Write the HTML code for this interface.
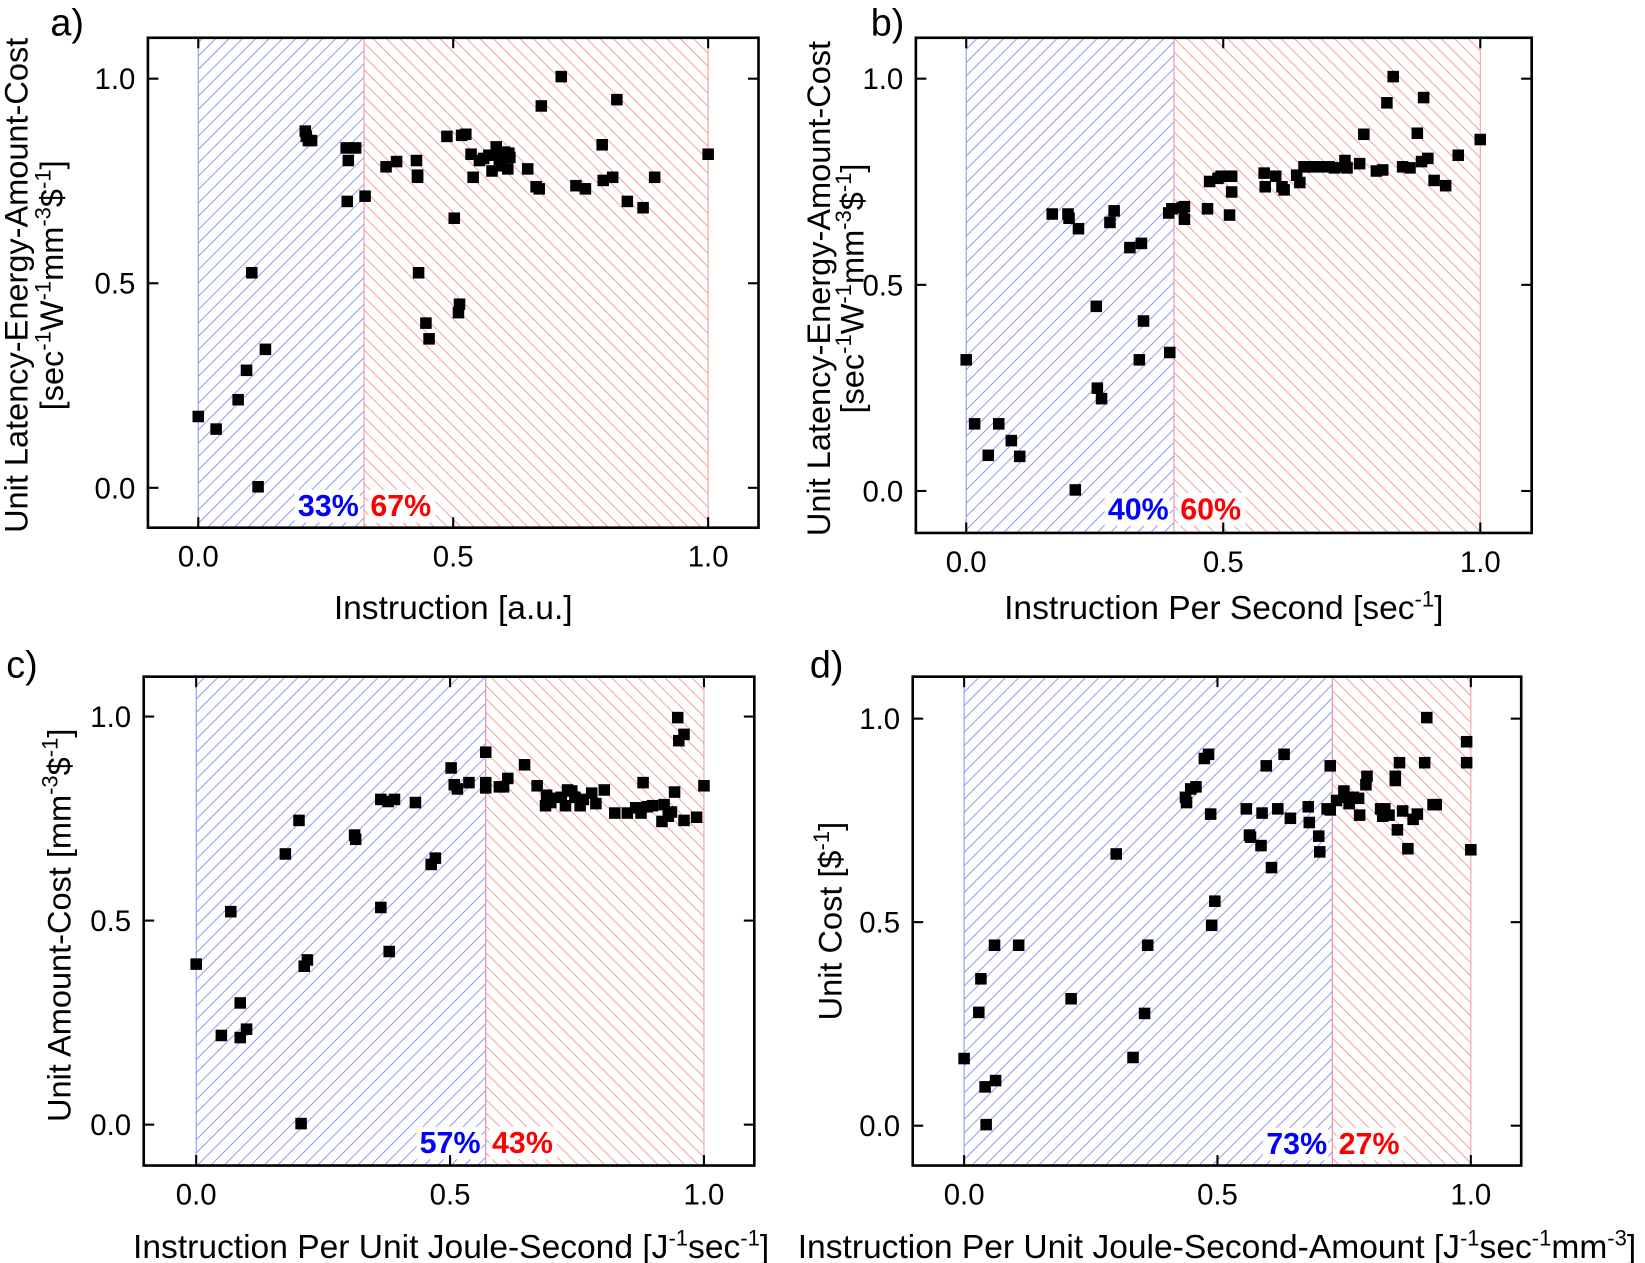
<!DOCTYPE html>
<html><head><meta charset="utf-8"><style>
html,body{margin:0;padding:0;background:#fff}
svg{display:block;font-family:"Liberation Sans",Arial,sans-serif}
</style></head><body>
<svg id="s" width="1645" height="1263" viewBox="0 0 1645 1263" xmlns="http://www.w3.org/2000/svg">
<defs>
<pattern id="hb" patternUnits="userSpaceOnUse" width="9" height="9" patternTransform="rotate(45)"><line x1="0" y1="0" x2="0" y2="9" stroke="#7a86f0" stroke-width="1.6"/></pattern>
<pattern id="hr" patternUnits="userSpaceOnUse" width="9" height="9" patternTransform="rotate(-45)"><line x1="0" y1="0" x2="0" y2="9" stroke="#f58a8a" stroke-width="1.6"/></pattern>
</defs>
<g id="g" transform="scale(1.0491)"></g>
</svg>
<script>
var S='<tspan dy="-12" font-size="21">',E='</tspan><tspan dy="12">';
var YL2='[sec'+S+'-1'+E+'W</tspan>'+S+'-1'+E+'mm</tspan>'+S+'-3'+E+'$</tspan>'+S+'-1'+E+']</tspan>';
var P=[
{bx:141,by:36,bw:582,bh:467,x0:189,x1:675,y1:75,y0:465,sp:347,l:"a)",lx:48,ly:34,b:"33%",r:"67%",
yl1:"Unit Latency-Energy-Amount-Cost",yl2:YL2,yx1:26,yx2:60,cy:272,
xl:'Instruction [a.u.]',xly:590,
pts:[[189,397],[206,409],[246,464],[227,381],[235,353],[240,260],[253,333],[291,125],[292,130],[294,134],[297,134],[330,141],[332,153],[339,141],[331,192],[348,187],[368,159],[378,154],[397,153],[398,167],[398,169],[399,260],[406,308],[409,323],[426,130],[433,208],[437,298],[438,290],[440,129],[444,128],[449,147],[451,169],[457,153],[461,151],[466,148],[469,163],[473,140],[475,147],[478,158],[481,145],[484,161],[479,150],[476,152],[485,146],[503,161],[511,178],[514,180],[516,101],[535,73],[549,177],[558,180],[574,138],[575,172],[584,169],[588,95],[598,192],[613,198],[624,169],[675,147],[486,150]]},
{bx:873,by:36,bw:587,bh:472,x0:921,x1:1411,y1:75,y0:468,sp:1119,l:"b)",lx:830,ly:34,b:"40%",r:"60%",
yl1:"Unit Latency-Energy-Amount-Cost",yl2:YL2,yx1:791,yx2:823,cy:275,
xl:'Instruction Per Second [sec'+S+'-1'+E+']</tspan>',xly:590,
pts:[[921,343],[929,404],[942,434],[952,404],[964,420],[972,435],[1003,204],[1018,204],[1019,208],[1025,467],[1028,218],[1045,292],[1046,370],[1050,380],[1058,212],[1062,201],[1077,236],[1086,343],[1088,232],[1090,306],[1114,203],[1115,336],[1117,199],[1127,198],[1129,209],[1129,197],[1151,199],[1153,173],[1161,170],[1164,168],[1172,205],[1174,183],[1174,168],[1206,178],[1216,168],[1222,178],[1224,181],[1236,167],[1239,174],[1243,159],[1247,159],[1252,159],[1258,159],[1267,159],[1272,160],[1282,159],[1284,160],[1296,156],[1300,128],[1312,163],[1318,162],[1322,98],[1328,73],[1337,159],[1344,160],[1351,127],[1355,154],[1357,93],[1361,151],[1367,172],[1378,177],[1390,148],[1411,133],[1205,165],[1282,153]]},
{bx:137,by:645,bw:582,bh:466,x0:187,x1:671,y1:683,y0:1072,sp:463,l:"c)",lx:6,ly:646,b:"57%",r:"43%",
yl1:'Unit Amount-Cost [mm'+S+'-3'+E+'$</tspan>'+S+'-1'+E+']</tspan>',yl2:null,yx1:67,cy:882,
xl:'Instruction Per Unit Joule-Second [J'+S+'-1'+E+'sec</tspan>'+S+'-1'+E+']</tspan>',xly:1199,xlx:430,
pts:[[187,919],[211,987],[220,869],[229,989],[229,956],[235,981],[272,814],[285,782],[287,1071],[290,921],[293,915],[338,796],[339,800],[363,865],[363,762],[370,764],[371,907],[376,762],[396,765],[411,824],[415,818],[430,732],[433,748],[436,752],[447,746],[463,751],[463,746],[463,717],[476,750],[480,750],[484,742],[500,729],[512,749],[520,768],[521,758],[524,761],[525,765],[535,760],[539,768],[541,753],[545,754],[548,760],[553,768],[564,756],[568,766],[576,753],[586,775],[598,775],[611,775],[613,746],[617,769],[622,768],[631,783],[633,767],[637,778],[640,774],[643,755],[647,706],[652,782],[646,684],[652,700],[664,779],[671,749],[556,762],[606,770]]},
{bx:870,by:645,bw:580,bh:466,x0:919,x1:1402,y1:685,y0:1073,sp:1270,l:"d)",lx:772,ly:646,b:"73%",r:"27%",
yl1:'Unit Cost [$'+S+'-1'+E+']</tspan>',yl2:null,yx1:802,cy:878,
xl:'Instruction Per Unit Joule-Second-Amount [J'+S+'-1'+E+'sec</tspan>'+S+'-1'+E+'mm</tspan>'+S+'-3'+E+']</tspan>',xly:1199,xlx:1160,
pts:[[919,1009],[933,965],[935,933],[939,1036],[940,1072],[949,1030],[948,901],[971,901],[1021,952],[1064,814],[1080,1008],[1091,966],[1094,901],[1130,760],[1131,765],[1135,752],[1140,750],[1148,723],[1152,719],[1155,882],[1158,859],[1154,776],[1188,771],[1191,796],[1192,798],[1202,806],[1203,775],[1207,730],[1212,827],[1218,771],[1224,719],[1230,780],[1247,769],[1248,784],[1257,797],[1258,812],[1265,771],[1268,772],[1268,730],[1274,763],[1281,754],[1284,760],[1290,760],[1295,761],[1302,748],[1303,740],[1316,771],[1318,778],[1324,777],[1330,744],[1330,740],[1332,791],[1337,773],[1342,809],[1347,781],[1351,776],[1358,727],[1360,684],[1366,767],[1369,767],[1398,707],[1398,727],[1402,810],[1334,727],[1320,771],[1296,777],[1286,766]]}
];
var h="";
P.forEach(function(p){
 var T=p.by,B=p.by+p.bh,L=p.bx,R=p.bx+p.bw;
 h+='<rect x="'+p.x0+'" y="'+T+'" width="'+(p.sp-p.x0)+'" height="'+p.bh+'" fill="url(#hb)" stroke="#8a94f0" stroke-width="1"/>';
 h+='<rect x="'+p.sp+'" y="'+T+'" width="'+(p.x1-p.sp)+'" height="'+p.bh+'" fill="url(#hr)" stroke="#f59a9a" stroke-width="1"/>';
 var ty=p.y0+27;
 h+='<rect x="'+(p.sp-66)+'" y="'+(ty-25)+'" width="62" height="31" fill="#fff"/>';
 h+='<rect x="'+(p.sp+4)+'" y="'+(ty-25)+'" width="64" height="31" fill="#fff"/>';
 h+='<text x="'+(p.sp-5)+'" y="'+ty+'" text-anchor="end" font-size="29" font-weight="bold" fill="#0000ff">'+p.b+'</text>';
 h+='<text x="'+(p.sp+6)+'" y="'+ty+'" font-size="29" font-weight="bold" fill="#ff0000">'+p.r+'</text>';
 p.pts.forEach(function(q){h+='<rect x="'+(q[0]-5.5)+'" y="'+(q[1]-5.5)+'" width="11" height="11" fill="#000"/>';});
 h+='<rect x="'+L+'" y="'+T+'" width="'+p.bw+'" height="'+p.bh+'" fill="none" stroke="#000" stroke-width="2.5"/>';
 [0,0.5,1].forEach(function(v){
  var x=p.x0+(p.x1-p.x0)*v, y=p.y0+(p.y1-p.y0)*v, lab=v.toFixed(1);
  h+='<line x1="'+x+'" y1="'+B+'" x2="'+x+'" y2="'+(B-10)+'" stroke="#000" stroke-width="2"/>';
  h+='<line x1="'+x+'" y1="'+T+'" x2="'+x+'" y2="'+(T+10)+'" stroke="#000" stroke-width="2"/>';
  h+='<line x1="'+L+'" y1="'+y+'" x2="'+(L+10)+'" y2="'+y+'" stroke="#000" stroke-width="2"/>';
  h+='<line x1="'+R+'" y1="'+y+'" x2="'+(R-10)+'" y2="'+y+'" stroke="#000" stroke-width="2"/>';
  h+='<text x="'+x+'" y="'+(B+37)+'" text-anchor="middle" font-size="28">'+lab+'</text>';
  h+='<text x="'+(L-12)+'" y="'+(y+10)+'" text-anchor="end" font-size="28">'+lab+'</text>';
 });
 h+='<text x="'+p.lx+'" y="'+p.ly+'" font-size="36">'+p.l+'</text>';
 var cy=p.cy;
 h+='<text transform="translate('+p.yx1+','+cy+') rotate(-90)" text-anchor="middle" font-size="31">'+p.yl1+'</text>';
 if(p.yl2)h+='<text transform="translate('+p.yx2+','+cy+') rotate(-90)" text-anchor="middle" font-size="31">'+p.yl2+'</text>';
 h+='<text x="'+(p.xlx||(L+R)/2)+'" y="'+p.xly+'" text-anchor="middle" font-size="32">'+p.xl+'</text>';
});
document.getElementById("g").innerHTML=h;
</script>
</body></html>
